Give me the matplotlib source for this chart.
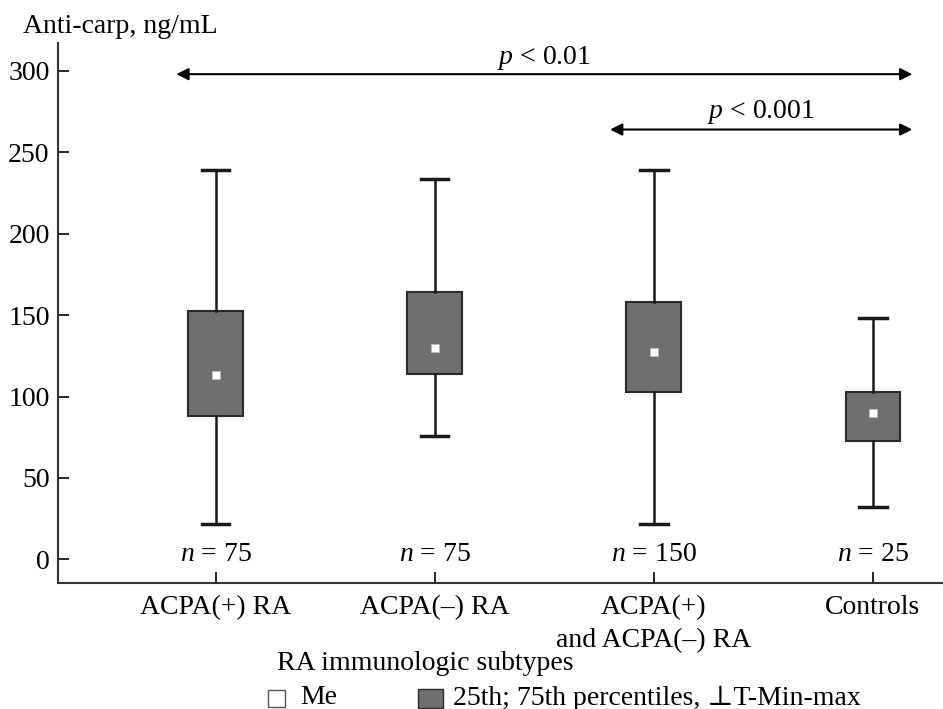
import matplotlib.pyplot as plt
from matplotlib.patches import Rectangle

plt.rcParams['font.family'] = ['Liberation Serif', 'DejaVu Serif']
plt.rcParams['font.size'] = 20
plt.rcParams['mathtext.fontset'] = 'custom'
plt.rcParams['mathtext.rm'] = 'Liberation Serif'
plt.rcParams['mathtext.it'] = 'Liberation Serif:italic'

groups = ['ACPA(+) RA', 'ACPA(–) RA', 'ACPA(+)\nand ACPA(–) RA', 'Controls']
n_labels = [75, 75, 150, 25]
mins = [22, 76, 22, 32]
q1 = [88, 114, 103, 73]
medians = [113, 130, 127.5, 90]
q3 = [152.5, 164.5, 158, 103]
maxs = [239, 233.5, 239, 148]

stats = []
for i in range(len(groups)):
    stats.append({'whislo': mins[i], 'q1': q1[i], 'med': medians[i],
                  'q3': q3[i], 'whishi': maxs[i], 'fliers': []})

fig = plt.figure(figsize=(9.43, 7.09), dpi=100)
ax = fig.add_axes([0.0615, 0.178, 0.9385, 0.761])

pos = list(range(len(groups)))
ax.bxp(stats, positions=pos, widths=0.25, patch_artist=True, showfliers=False,
       boxprops=dict(facecolor='#6f6f6f', edgecolor='#2a2a2a', linewidth=1.5),
       whiskerprops=dict(color='#1a1a1a', linewidth=1.8),
       capprops=dict(color='#1a1a1a', linewidth=2.5),
       capwidths=0.125,
       medianprops=dict(linewidth=0))
ax.plot(pos, medians, linestyle='none', marker='s', markersize=5.5,
        markerfacecolor='white', markeredgecolor='#bbbbbb', markeredgewidth=0.6, zorder=5)

for x, n in zip(pos, n_labels):
    ax.text(x, 3, f'$n$ = {n}', ha='center', va='center', fontsize=20)

# significance arrows
ax.annotate('', xy=(-0.18, 298), xytext=(3.18, 298),
            arrowprops=dict(arrowstyle='<|-|>', color='black', lw=1.5, mutation_scale=18, shrinkA=0, shrinkB=0))
ax.text(1.5, 308, '$p$ < 0.01', ha='center', va='center', fontsize=20)
ax.annotate('', xy=(1.8, 264), xytext=(3.18, 264),
            arrowprops=dict(arrowstyle='<|-|>', color='black', lw=1.5, mutation_scale=18, shrinkA=0, shrinkB=0))
ax.text(2.49, 275, '$p$ < 0.001', ha='center', va='center', fontsize=20)

ax.set_xlim(-0.72, 3.32)
ax.set_ylim(-14.4, 317)
ax.set_yticks([0, 50, 100, 150, 200, 250, 300])
ax.set_xticks(pos)
ax.set_xticklabels(groups, linespacing=1.4)
ax.tick_params(axis='x', pad=9)
ax.tick_params(direction='in', length=8, width=1.2, labelsize=20)
ax.tick_params(axis='y', pad=6)
for s in ['top', 'right']:
    ax.spines[s].set_visible(False)
for s in ['left', 'bottom']:
    ax.spines[s].set_linewidth(1.5)
    ax.spines[s].set_color('#333333')

fig.text(0.024, 0.962, 'Anti-carp, ng/mL', ha='left', va='center', fontsize=20)
fig.text(0.451, 0.064, 'RA immunologic subtypes', ha='center', va='center', fontsize=20)

fig.patches.append(Rectangle((268 / 943, 1 - 707 / 709), 17 / 943, 17 / 709,
                             transform=fig.transFigure, facecolor='white', edgecolor='#555555', lw=1))
fig.text(300 / 943, 1 - 698 / 709, 'Me', ha='left', va='center', fontsize=20)
fig.patches.append(Rectangle((418 / 943, 1 - 708 / 709), 25 / 943, 19 / 709,
                             transform=fig.transFigure, facecolor='#6f6f6f', edgecolor='#2a2a2a', lw=1))
fig.text(453 / 943, 1 - 698 / 709, '25th; 75th percentiles, ⊥T-Min-max', ha='left', va='center', fontsize=20)

fig.savefig('out.png', dpi=100)
